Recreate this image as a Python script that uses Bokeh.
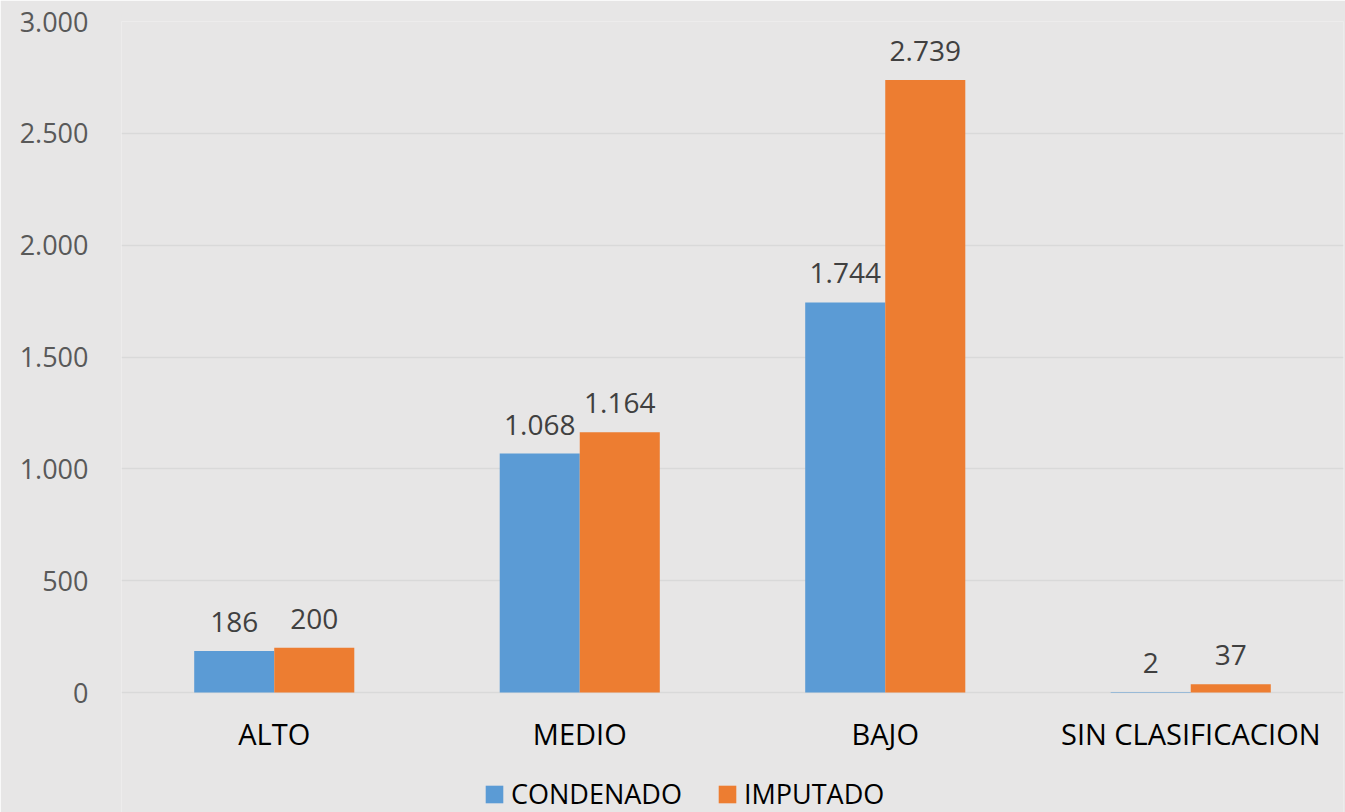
from bokeh.plotting import figure
from bokeh.models import ColumnDataSource, FactorRange, Range1d, FixedTicker, Legend, LegendItem
from bokeh.transform import dodge
from bokeh.core.properties import value
from bokeh.embed import file_html
from bokeh.resources import INLINE

categories = ["ALTO", "MEDIO", "BAJO", "SIN CLASIFICACION"]
condenado = [186, 1068, 1744, 2]
imputado = [200, 1164, 2739, 37]
series_names = ["CONDENADO", "IMPUTADO"]
y_ticks = [0, 500, 1000, 1500, 2000, 2500, 3000]
y_tick_labels = ["0", "500", "1.000", "1.500", "2.000", "2.500", "3.000"]

def fmt(v):
    return f"{v:,}".replace(",", ".")

src = ColumnDataSource(dict(
    cats=categories,
    base=[0] * len(categories),
    condenado=condenado,
    imputado=imputado,
    lab_c=[fmt(v) for v in condenado],
    lab_i=[fmt(v) for v in imputado],
))

FONT = "Open Sans"
BG = "#E7E6E6"
BLUE = "#5B9BD5"
ORANGE = "#ED7D31"

W, H = 1345, 812
TOP, BOTTOM_SPACE = 21, 120          # pixels above the 3.000 line / below the 0 line
y_max = y_ticks[-1]
plot_h = H - TOP - BOTTOM_SPACE
y_min = -y_max * BOTTOM_SPACE / plot_h  # room for category labels and legend

p = figure(width=W, height=H, x_range=FactorRange(*categories, range_padding=0),
           y_range=Range1d(y_min, y_max), output_backend="svg", toolbar_location=None,
           min_border_left=121, min_border_right=2, min_border_top=TOP, min_border_bottom=0)
p.background_fill_color = BG
p.border_fill_color = BG
p.outline_line_color = None

bw = 0.262
r1 = p.vbar(x=dodge("cats", -bw / 2, range=p.x_range), top="condenado", bottom="base",
            width=bw, source=src, fill_color=BLUE, line_color=None)
r2 = p.vbar(x=dodge("cats", bw / 2, range=p.x_range), top="imputado", bottom="base",
            width=bw, source=src, fill_color=ORANGE, line_color=None)

for col, off in (("condenado", -bw / 2), ("imputado", bw / 2)):
    lab = "lab_c" if col == "condenado" else "lab_i"
    p.text(x=dodge("cats", off, range=p.x_range), y=col, text=lab, source=src,
           text_font=value(FONT), text_font_size="28px", text_color="#404040",
           text_align="center", text_baseline="alphabetic", y_offset=-29)

# category labels under the zero line
p.text(x="cats", y="base", text="cats", source=src, text_font=value(FONT),
       text_font_size="29px", text_color="#000000", text_align="center",
       text_baseline="middle", y_offset=41)

p.xgrid.grid_line_color = None
p.ygrid.grid_line_color = "#D9D9D9"
p.ygrid.grid_line_width = 1.3
p.ygrid.ticker = FixedTicker(ticks=y_ticks)

p.xaxis.visible = False

p.yaxis.ticker = FixedTicker(ticks=y_ticks)
p.yaxis.major_label_overrides = {t: l for t, l in zip(y_ticks, y_tick_labels)}
p.yaxis.axis_line_color = None
p.yaxis.major_tick_line_color = None
p.yaxis.minor_tick_line_color = None
p.yaxis.major_label_text_font = FONT
p.yaxis.major_label_text_font_size = "27px"
p.yaxis.major_label_text_color = "#595959"
p.yaxis.major_label_standoff = 27

legend = Legend(items=[LegendItem(label=series_names[0], renderers=[r1]),
                       LegendItem(label=series_names[1], renderers=[r2])],
                orientation="horizontal", location=(362, 0),
                background_fill_alpha=0, border_line_color=None,
                padding=0, margin=0, spacing=34, glyph_width=22, glyph_height=22,
                label_standoff=6, label_text_font=FONT,
                label_text_font_size="27px", label_text_color="#000000", label_height=24)
p.add_layout(legend, "center")

open("out.html", "w").write(file_html(p, INLINE))
